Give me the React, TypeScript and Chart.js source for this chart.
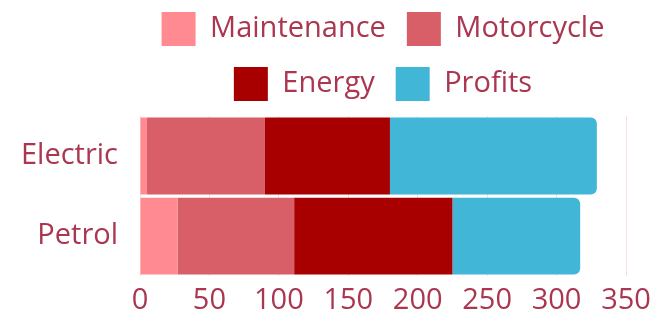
import React, { useEffect, useRef } from "react";
import { Chart, registerables } from "chart.js";

Chart.register(...registerables);

const categories = ["Electric", "Petrol"];
const seriesNames = ["Maintenance", "Motorcycle", "Energy", "Profits"];
const maintenance = [5, 27];
const motorcycle = [85, 84];
const energy = [90, 114];
const profits = [149, 92];
const seriesColors = ["#FF8A92", "#D85E68", "#A80000", "#41B6D6"];
const textColor = "#AA3650";
const gridColor = "rgba(200, 80, 110, 0.18)";
const FONT = "'Open Sans', 'Noto Sans', sans-serif";
const FS = 29;

export default function App() {
  const ref = useRef<HTMLCanvasElement | null>(null);
  useEffect(() => {
    const values = [maintenance, motorcycle, energy, profits];
    const chart = new Chart(ref.current!, {
      type: "bar",
      data: {
        labels: categories,
        datasets: seriesNames.map((name, i) => ({
          label: name,
          data: values[i],
          backgroundColor: seriesColors[i],
          borderWidth: 0,
          borderRadius: i === 3 ? 6 : 0,
          borderSkipped: i === 3 ? "start" : false,
          barPercentage: 1,
          categoryPercentage: 0.96,
        })) as any,
      },
      options: {
        indexAxis: "y",
        animation: false,
        responsive: true,
        maintainAspectRatio: false,
        layout: { padding: { left: 7, right: 42, bottom: 0 } },
        plugins: {
          legend: {
            position: "top",
            fullSize: false,
            labels: {
              color: textColor,
              font: { family: FONT, size: FS },
              boxWidth: 34,
              boxHeight: 34,
              padding: 21,
            },
          },
          tooltip: { enabled: false },
        },
        scales: {
          x: {
            stacked: true,
            min: 0,
            max: 350,
            ticks: { stepSize: 50, color: textColor, font: { family: FONT, size: FS }, padding: 7 },
            grid: { color: gridColor, drawTicks: false },
            border: { display: false },
          },
          y: {
            stacked: true,
            ticks: { color: textColor, font: { family: FONT, size: FS }, padding: 14 },
            grid: { display: false },
            border: { display: false },
          },
        },
      },
    });
    // keep the legend to two entries per row, as in the reference, with a little space below it
    const legend = (chart as any).legend;
    const origUpdate = legend.update.bind(legend);
    legend.update = (maxWidth: number, maxHeight: number, margins: any) => {
      const r = origUpdate(Math.min(maxWidth, 520), maxHeight, margins);
      legend.height += 5;
      return r;
    };
    chart.update();
    return () => chart.destroy();
  }, []);
  return (
    <div style={{ position: "fixed", left: 0, top: 0, width: 668, height: 311, overflow: "hidden" }}>
      <div style={{ position: "absolute", left: 0, top: -9, width: 668, height: 334 }}>
        <canvas ref={ref} />
      </div>
    </div>
  );
}
